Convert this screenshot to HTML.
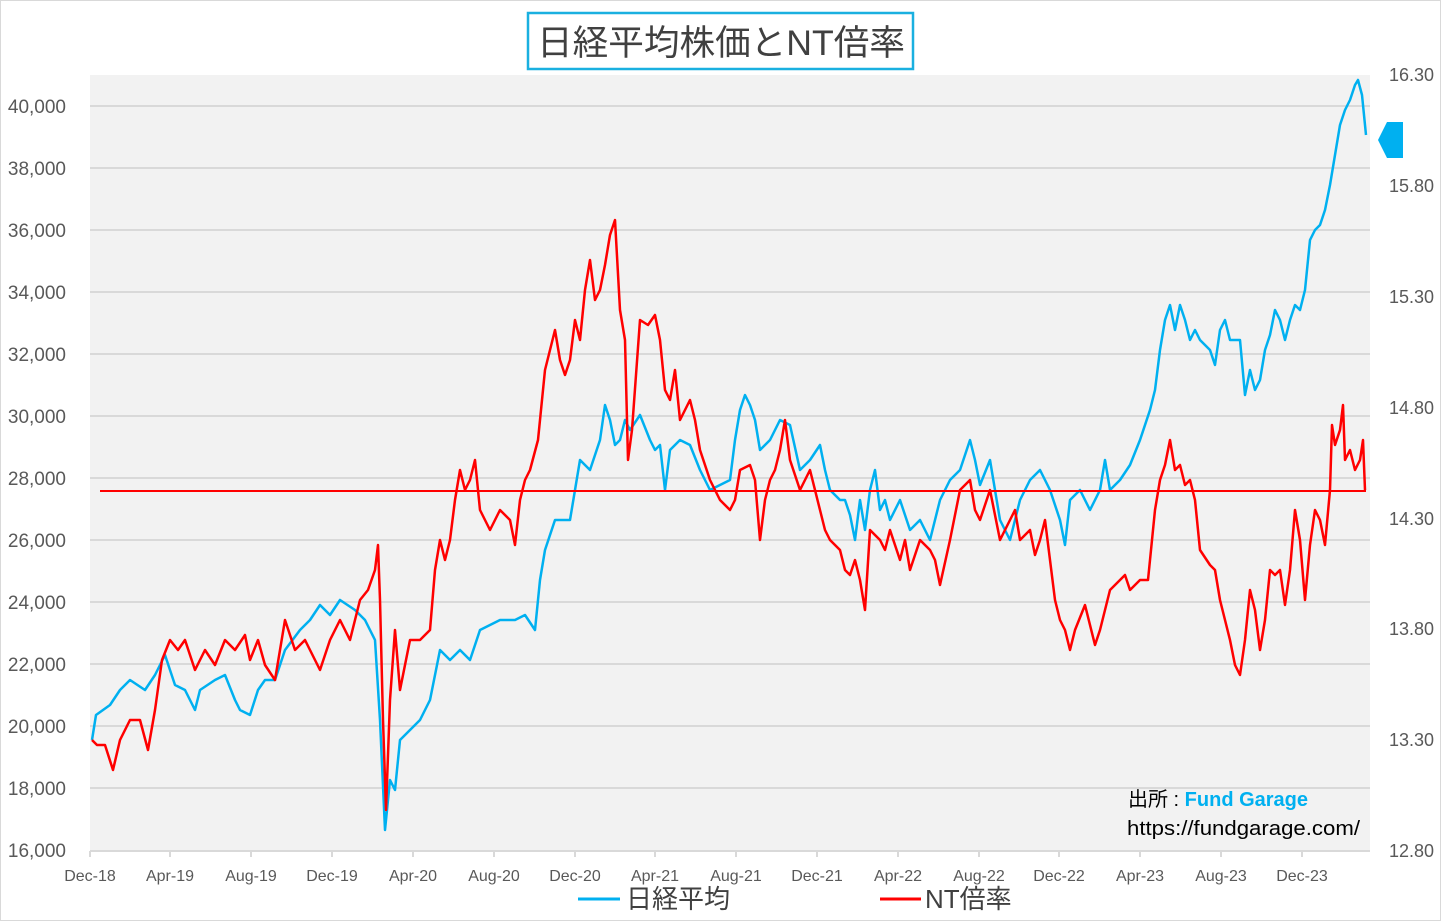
<!DOCTYPE html><html><head><meta charset="utf-8"><style>body{margin:0;background:#fff}svg{display:block}text{font-family:"Liberation Sans","Noto Sans CJK JP",sans-serif}</style></head><body>
<svg width="1441" height="921" viewBox="0 0 1441 921">
<rect x="0.5" y="0.5" width="1440" height="920" fill="#fff" stroke="#d9d9d9"/>
<rect x="90" y="75" width="1280" height="776" fill="#f2f2f2"/>
<g stroke="#d9d9d9" stroke-width="2">
<line x1="90" x2="1370" y1="106" y2="106"/><line x1="90" x2="1370" y1="168" y2="168"/><line x1="90" x2="1370" y1="230" y2="230"/><line x1="90" x2="1370" y1="292" y2="292"/><line x1="90" x2="1370" y1="354" y2="354"/><line x1="90" x2="1370" y1="416" y2="416"/><line x1="90" x2="1370" y1="478" y2="478"/><line x1="90" x2="1370" y1="540" y2="540"/><line x1="90" x2="1370" y1="602" y2="602"/><line x1="90" x2="1370" y1="664" y2="664"/><line x1="90" x2="1370" y1="726" y2="726"/><line x1="90" x2="1370" y1="788" y2="788"/><line x1="90" x2="1370" y1="851" y2="851"/>
</g>
<g stroke="#d9d9d9" stroke-width="2">
<line x1="90" x2="90" y1="851" y2="857"/><line x1="170" x2="170" y1="851" y2="857"/><line x1="251" x2="251" y1="851" y2="857"/><line x1="332" x2="332" y1="851" y2="857"/><line x1="413" x2="413" y1="851" y2="857"/><line x1="494" x2="494" y1="851" y2="857"/><line x1="575" x2="575" y1="851" y2="857"/><line x1="655" x2="655" y1="851" y2="857"/><line x1="736" x2="736" y1="851" y2="857"/><line x1="817" x2="817" y1="851" y2="857"/><line x1="898" x2="898" y1="851" y2="857"/><line x1="979" x2="979" y1="851" y2="857"/><line x1="1059" x2="1059" y1="851" y2="857"/><line x1="1140" x2="1140" y1="851" y2="857"/><line x1="1221" x2="1221" y1="851" y2="857"/><line x1="1302" x2="1302" y1="851" y2="857"/>
</g>
<g font-size="19" fill="#595959" text-anchor="end">
<text x="66" y="113">40,000</text><text x="66" y="175">38,000</text><text x="66" y="237">36,000</text><text x="66" y="299">34,000</text><text x="66" y="361">32,000</text><text x="66" y="423">30,000</text><text x="66" y="485">28,000</text><text x="66" y="547">26,000</text><text x="66" y="609">24,000</text><text x="66" y="671">22,000</text><text x="66" y="733">20,000</text><text x="66" y="795">18,000</text><text x="66" y="857">16,000</text>
</g>
<g font-size="18" fill="#595959">
<text x="1389" y="81">16.30</text><text x="1389" y="192">15.80</text><text x="1389" y="303">15.30</text><text x="1389" y="414">14.80</text><text x="1389" y="525">14.30</text><text x="1389" y="635">13.80</text><text x="1389" y="746">13.30</text><text x="1389" y="857">12.80</text>
</g>
<g font-size="16" fill="#595959" text-anchor="middle">
<text x="90" y="881">Dec-18</text><text x="170" y="881">Apr-19</text><text x="251" y="881">Aug-19</text><text x="332" y="881">Dec-19</text><text x="413" y="881">Apr-20</text><text x="494" y="881">Aug-20</text><text x="575" y="881">Dec-20</text><text x="655" y="881">Apr-21</text><text x="736" y="881">Aug-21</text><text x="817" y="881">Dec-21</text><text x="898" y="881">Apr-22</text><text x="979" y="881">Aug-22</text><text x="1059" y="881">Dec-22</text><text x="1140" y="881">Apr-23</text><text x="1221" y="881">Aug-23</text><text x="1302" y="881">Dec-23</text>
</g>
<polyline fill="none" stroke="#00b0f0" stroke-width="2.5" stroke-linejoin="round" points="92,740 96,715 110,705 120,690 130,680 145,690 155,675 165,655 175,685 185,690 195,710 200,690 215,680 225,675 235,700 240,710 250,715 258,690 265,680 275,680 285,650 300,630 310,620 320,605 330,615 340,600 355,610 365,620 375,640 380,720 385,830 390,780 395,790 400,740 410,730 420,720 430,700 440,650 450,660 460,650 470,660 480,630 490,625 500,620 515,620 525,615 535,630 540,580 545,550 555,520 570,520 580,460 590,470 600,440 605,405 610,420 615,445 620,440 625,420 630,430 640,415 650,440 655,450 660,445 665,490 670,450 680,440 690,445 700,470 710,490 720,485 730,480 735,440 740,410 745,395 750,405 755,420 760,450 770,440 780,420 790,425 800,470 810,460 820,445 825,470 830,490 840,500 845,500 850,515 855,540 860,500 865,530 870,490 875,470 880,510 885,500 890,520 900,500 910,530 920,520 930,540 940,500 950,480 960,470 970,440 975,460 980,485 990,460 1000,520 1010,540 1020,500 1030,480 1040,470 1050,490 1060,520 1065,545 1070,500 1080,490 1090,510 1100,490 1105,460 1110,490 1120,480 1130,465 1140,440 1150,410 1155,390 1160,350 1165,320 1170,305 1175,330 1180,305 1185,320 1190,340 1195,330 1200,340 1210,350 1215,365 1220,330 1225,320 1230,340 1240,340 1245,395 1250,370 1255,390 1260,380 1265,350 1270,335 1275,310 1280,320 1285,340 1290,320 1295,305 1300,310 1305,290 1310,240 1315,230 1320,225 1325,210 1330,185 1335,155 1340,125 1345,110 1350,100 1355,85 1358,80 1362,95 1366,135"/>
<line x1="100" x2="1366" y1="491" y2="491" stroke="#ff0000" stroke-width="2"/>
<polyline fill="none" stroke="#ff0000" stroke-width="2.5" stroke-linejoin="round" points="92,740 97,745 105,745 113,770 120,740 130,720 140,720 148,750 155,710 162,660 170,640 178,650 185,640 195,670 205,650 215,665 225,640 235,650 245,635 250,660 258,640 265,665 275,680 285,620 295,650 305,640 315,660 320,670 330,640 340,620 350,640 360,600 368,590 375,570 378,545 380,600 383,720 386,810 390,700 395,630 400,690 410,640 420,640 430,630 435,570 440,540 445,560 450,540 455,500 460,470 465,490 470,480 475,460 480,510 490,530 500,510 510,520 515,545 520,500 525,480 530,470 538,440 545,370 550,350 555,330 560,360 565,375 570,360 575,320 580,340 585,290 590,260 595,300 600,290 605,265 610,235 615,220 620,310 625,340 628,460 632,430 640,320 648,325 655,315 660,340 665,390 670,400 675,370 680,420 690,400 695,420 700,450 710,480 720,500 730,510 735,500 740,470 750,465 755,480 760,540 765,500 770,480 775,470 780,450 785,420 790,460 800,490 805,480 810,470 820,510 825,530 830,540 840,550 845,570 850,575 855,560 860,580 865,610 870,530 880,540 885,550 890,530 900,560 905,540 910,570 920,540 930,550 935,560 940,585 950,540 960,490 970,480 975,510 980,520 990,490 1000,540 1010,520 1015,510 1020,540 1030,530 1035,555 1040,540 1045,520 1050,560 1055,600 1060,620 1065,630 1070,650 1075,630 1085,605 1095,645 1100,630 1110,590 1120,580 1125,575 1130,590 1140,580 1148,580 1155,510 1160,480 1165,465 1170,440 1175,470 1180,465 1185,485 1190,480 1195,500 1200,550 1210,565 1215,570 1220,600 1225,620 1230,640 1235,665 1240,675 1245,640 1250,590 1255,610 1260,650 1265,620 1270,570 1275,575 1280,570 1285,605 1290,570 1295,510 1300,540 1305,600 1310,545 1315,510 1320,520 1325,545 1330,490 1332,425 1335,445 1340,430 1343,405 1345,460 1350,450 1355,470 1360,460 1363,440 1365,490"/>
<polygon points="1378,140 1387,122 1403,122 1403,158 1387,158" fill="#00b0f0"/>
<rect x="528" y="13" width="385" height="56" fill="#fff" stroke="#1ab0e0" stroke-width="2.5"/>
<text x="537" y="55" font-size="35" fill="#404040" textLength="368" lengthAdjust="spacingAndGlyphs">日経平均株価とNT倍率</text>
<text x="1128" y="806" font-size="20" fill="#000">出所 : <tspan fill="#00b0f0" font-weight="bold">Fund Garage</tspan></text>
<text x="1127" y="835" font-size="20" fill="#000" textLength="233" lengthAdjust="spacingAndGlyphs">https://fundgarage.com/</text>
<line x1="578" x2="620" y1="899" y2="899" stroke="#00b0f0" stroke-width="3"/>
<text x="626" y="908" font-size="26" fill="#404040">日経平均</text>
<line x1="880" x2="921" y1="899" y2="899" stroke="#ff0000" stroke-width="3"/>
<text x="925" y="908" font-size="26" fill="#404040">NT倍率</text>
</svg></body></html>
